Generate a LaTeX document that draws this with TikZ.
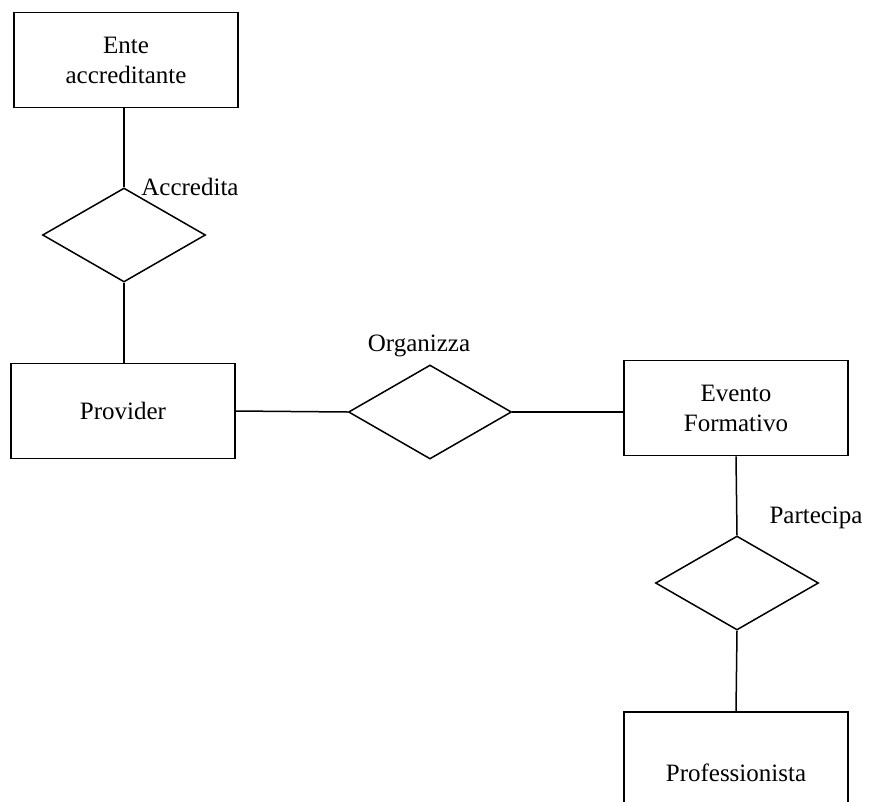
\documentclass[tikz,border=0pt]{standalone}
\usepackage{fontspec}
\setmainfont{Liberation Serif}
\usetikzlibrary{shapes.geometric}

\tikzset{
entity/.style={align=center,rectangle,draw,line width=1.6pt,font=\fontsize{25}{30}\selectfont,minimum width=224pt,minimum height=95pt,inner sep=0pt},
relation/.style={diamond,draw,line width=1.5pt,minimum width=163pt,minimum height=94pt,inner sep=0pt},
rlabel/.style={font=\fontsize{25}{30}\selectfont,inner sep=0pt},
link/.style={line width=1.5pt}
}

\begin{document}
\begin{tikzpicture}[x=1pt,y=-1pt]

\useasboundingbox (0,0) rectangle (870,801);
\clip (0,0) rectangle (870,801);

\draw(126,60) node[entity](1){Ente\\accreditante};

\draw(124,235) node[relation](2){};

\draw(190,187) node[rlabel](3){Accredita};

\draw(123,411) node[entity](4){Provider};

\draw(430,412) node[relation](5){};

\draw(419,346) node[rlabel](6){Organizza};

\draw(736,408) node[entity](7){Evento\\Formativo};

\draw(737,583) node[relation](8){};

\draw(816,518) node[rlabel](9){Partecipa};

\draw(736,773) node[entity,minimum height=122pt](10){Professionista};

\draw [link] (2.north |- 1.south) -- (2.north);
\draw [link] (2.south) -- (2.south |- 4.north);
\draw [link] (4.east) -- (5.west);
\draw [link] (5.east) -- (5.east -| 7.west);
\draw [link] (7.south) -- (8.north);
\draw [link] (8.south) -- (10.north);

\end{tikzpicture}
\end{document}
